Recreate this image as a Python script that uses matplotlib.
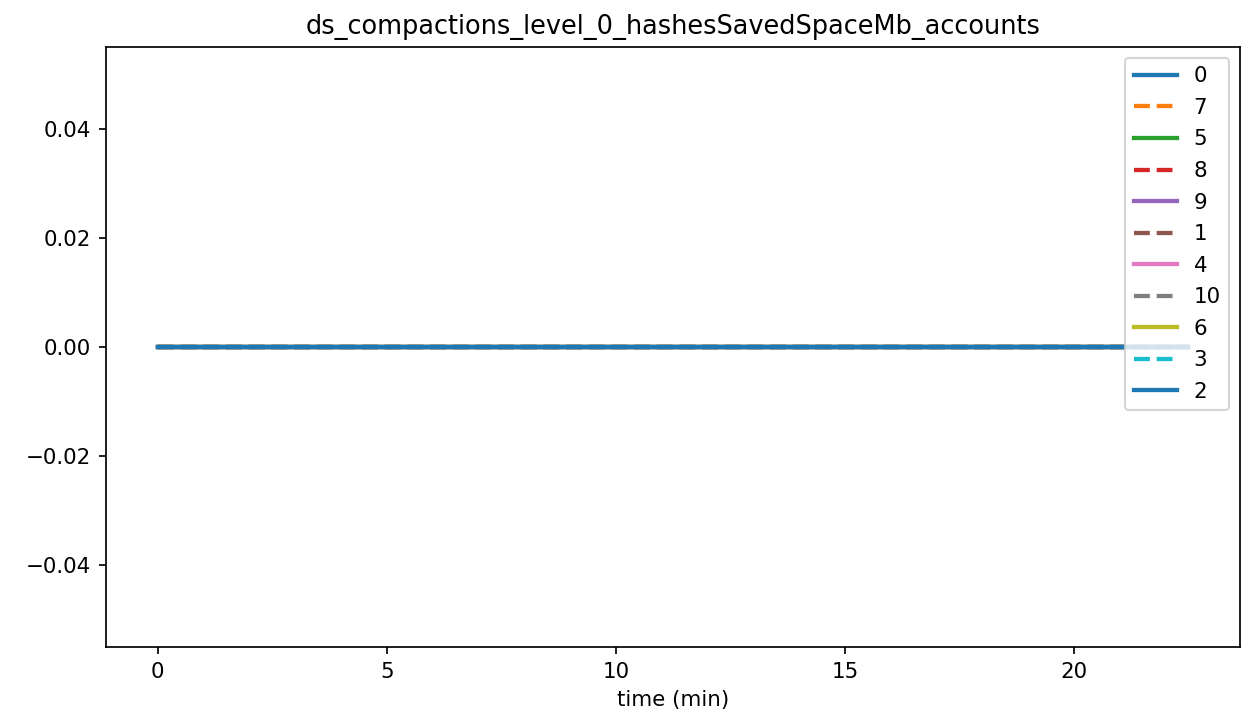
import matplotlib
matplotlib.use('Agg')
import matplotlib.pyplot as plt

# time (min) sample points and per-series values (all zero)
times = [0.0, 1.5, 3.0, 4.5, 6.0, 7.5, 9.0, 10.5, 12.0, 13.5, 15.0, 16.5, 18.0, 19.5, 21.0, 22.5]
series_names = ['0', '7', '5', '8', '9', '1', '4', '10', '6', '3', '2']
series_values = {name: [0.0] * len(times) for name in series_names}

DPI = 154
fig, ax = plt.subplots(figsize=(1243 / DPI, 725 / DPI), dpi=DPI)

for i, name in enumerate(series_names):
    style = '-' if i % 2 == 0 else '--'
    ax.plot(times, series_values[name], linestyle=style, linewidth=2, label=name)

ax.set_title('ds_compactions_level_0_hashesSavedSpaceMb_accounts')
ax.set_xlabel('time (min)')
ax.legend(loc='upper right', labelspacing=0.54)

fig.subplots_adjust(left=0.0853, right=0.9976, top=0.935, bottom=0.108)
fig.savefig('out.png', dpi=DPI)
